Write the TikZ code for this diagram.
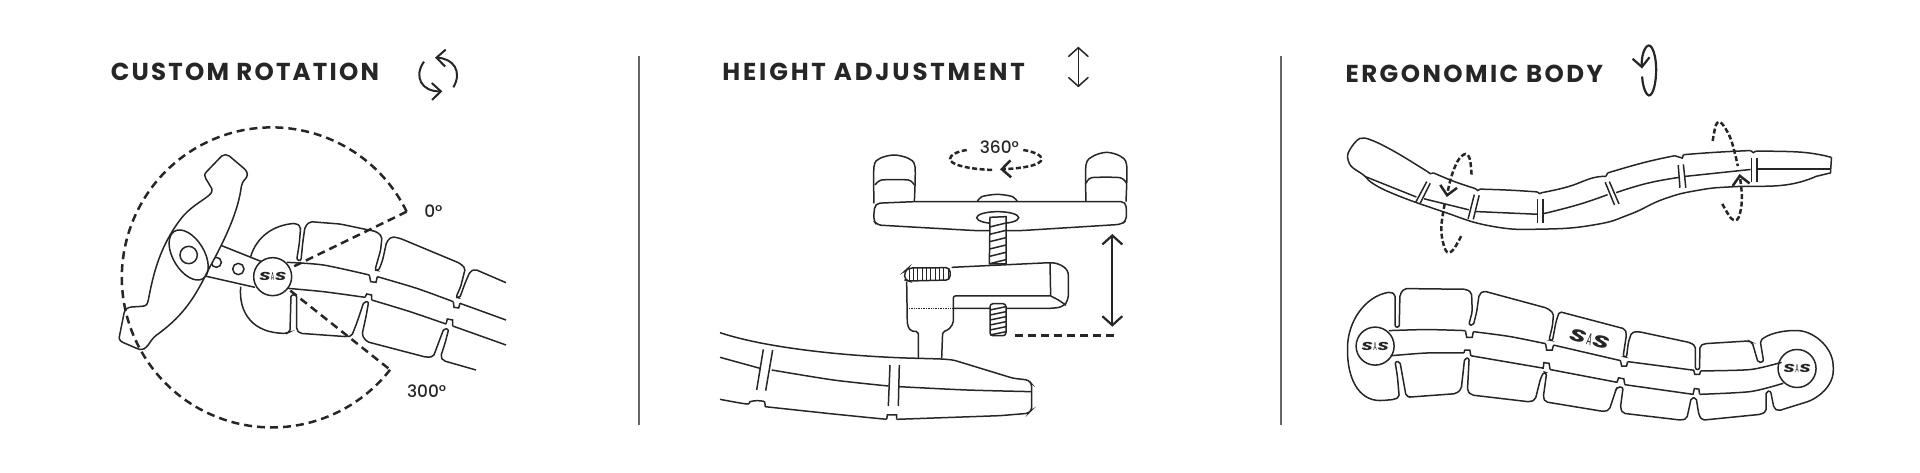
\documentclass[tikz,border=0pt]{standalone}
\usepackage{fontspec}
\setmainfont{Poppins}
\newfontfamily\titlefont[LetterSpace=10]{Poppins}
\newfontfamily\anglefont{Poppins Medium}
\usetikzlibrary{arrows.meta}
\newcommand{\sislogo}{{\bfseries\itshape\scalebox{1.6}[1]{S}}\kern.04em{\scalebox{.45}[1]{A}}\kern.04em{\bfseries\itshape\scalebox{1.6}[1]{S}}}
\tikzset{
  every path/.style={line width=1.5pt,black!85},
  zoomed/.style={x=.33333pt,y=-.33333pt},
  zoomedwide/.style={x=.34444pt,y=-.34444pt},
  padline/.style={rounded corners=2pt},
  title/.style={anchor=west,inner sep=0pt,text=black!85,font=\titlefont\bfseries\fontsize{24.5}{24.5}\selectfont},
  angletext/.style={inner sep=0pt,text=black!85,font=\anglefont\fontsize{17}{17}\selectfont},
  hubcircle/.style={circle,draw,fill=white,inner sep=0pt,minimum size=38pt,text=black!85,font=\fontsize{11.5}{11.5}\selectfont},
  chev/.style={>={Straight Barb[length=9pt,width=17pt]}},
  chevbig/.style={>={Straight Barb[length=9pt,width=20pt]}},
  dashline/.style={line width=2.5pt,dash pattern=on 8pt off 5pt},
  dashshort/.style={line width=2.5pt,dash pattern=on 5pt off 2.5pt},
  divider/.style={line width=1.6pt,black!60},
}
\begin{document}
\begin{tikzpicture}[x=1pt,y=-1pt]
\useasboundingbox (0,0) rectangle (1920,473);
\draw[divider] (639,56)--(639,425);
\draw[divider] (1281,56)--(1281,425);
% custom rotation
\begin{scope}[shift={(90,30)},zoomed]
\node[title] (rottitle) at (60,126) {\addfontfeature{LetterSpace=9}CUSTOM ROTATION};
\node[angletext] (zerotext) at (1030,545) {0°};
\node[angletext] (threetext) at (1010,1083) {300°};
\draw[chev,->,line width=2pt] (1090,172) .. controls (1118,125) and (1090,85) .. (1035,83);
\draw[chev,->,line width=2pt] (1002,95) .. controls (970,140) and (995,185) .. (1057,184);
\draw (390,645)--(515,695);
\draw (345,738)--(495,772);
\draw (379,697) circle (15);
\draw (445,717) circle (17);
\draw[fill=white] (395,378) .. controls (402,373) and (410,373) .. (418,378) -- (465,418) .. controls (474,428) and (474,438) .. (466,447) .. controls (458,455) and (456,460) .. (454,470) .. controls (445,540) and (410,620) .. (360,710) .. controls (320,790) and (290,850) .. (200,915) .. controls (180,930) and (178,945) .. (168,952) .. controls (160,960) and (150,960) .. (140,955) -- (98,937) .. controls (88,932) and (86,925) .. (89,915) -- (102,850) .. controls (105,838) and (112,832) .. (125,831) -- (155,829) .. controls (168,828) and (172,825) .. (175,810) .. controls (190,730) and (210,650) .. (270,570) .. controls (300,530) and (335,515) .. (358,495) .. controls (368,487) and (368,478) .. (362,470) -- (347,445) .. controls (342,437) and (343,432) .. (350,425) -- cycle;
\draw[rotate around={-59:(296,675)}] (296,675) ellipse (83 and 47);
\draw (296,675) circle (26);
\node[hubcircle] (hubone) at (548,740) {\sislogo};
% strap
\draw plot[smooth,tension=.45] coordinates {(590,697)(700,705)(838,735)};
\draw (838,735)--(842,755)--(858,757)--(862,740);
\draw plot[smooth,tension=.45] coordinates {(862,740)(980,775)(1090,815)};
\draw (1090,815)--(1092,832)--(1106,834)--(1110,820);
\draw (1110,820)--(1248,870);
\draw plot[smooth,tension=.45] coordinates {(592,775)(700,785)(825,802)};
\draw (825,802)--(830,792)--(845,795)--(845,810);
\draw plot[smooth,tension=.45] coordinates {(845,810)(960,845)(1068,882)};
\draw (1068,882)--(1072,867)--(1088,870)--(1088,888);
\draw (1088,888)--(1248,945);
\draw[padline] (482,680) .. controls (500,620) and (550,585) .. (618,580) -- (632,590) -- (628,640) -- (620,690) -- (633,692) -- (638,640) -- (645,590) -- (660,575) -- (750,582) -- (860,605) -- (876,620) -- (872,660) -- (855,720) -- (866,722) -- (878,690) -- (890,635) -- (905,620) -- (930,625) -- (1110,700) -- (1126,715) -- (1112,770) -- (1098,802) -- (1109,804) -- (1125,760) -- (1140,725) -- (1155,718) -- (1248,758);
\draw[padline] (452,770) .. controls (445,850) and (490,910) .. (590,910) -- (600,905) -- (603,795) -- (620,795) -- (620,900) -- (630,910) -- (770,920) -- (785,918) -- (800,880) -- (822,815) -- (836,815) -- (828,860) -- (816,915) -- (830,935) -- (1010,982) -- (1030,980) -- (1045,940) -- (1062,895) -- (1076,898) -- (1065,940) -- (1052,980) -- (1060,992) -- (1158,1020);
% range
\coordinate (zeroend) at (950,545);
\coordinate (threeend) at (895,1015);
\draw[dashline] (zeroend)--(hubone);
\draw[dashline] (threeend)--(hubone);
\draw[dashline] (zeroend) arc[start angle=-26,end angle=-322,radius=450];
\end{scope}
% height adjustment
\begin{scope}[shift={(700,30)},zoomed]
\node[title] (heighttitle) at (65,127) {\addfontfeature{LetterSpace=11.5}HEIGHT ADJUSTMENT};
\node[angletext] (rotatetext) at (898,352) {360°};
\draw[chevbig,<->,line width=1.5pt] (1135,50)--(1135,172);
% strap
\draw[rounded corners=3pt] (60,908) .. controls (200,955) and (450,980) .. (655,985) -- (725,987) -- (760,990) -- (940,1045) -- (985,1050) -- (995,1062) -- (995,1140) -- (985,1150) -- (900,1157) -- (590,1168);
\draw (590,1168)--(590,1155)--(562,1155)--(560,1168);
\draw plot[smooth,tension=.45] coordinates {(560,1168)(400,1152)(195,1130)};
\draw plot[smooth,tension=.45] coordinates {(195,1130)(193,1115)(170,1112)(150,1115)(140,1122)(60,1108)};
\draw (60,982)--(180,1015);
\draw plot[smooth,tension=.45] coordinates {(215,1020)(400,1050)(565,1068)};
\draw plot[smooth,tension=.45] coordinates {(597,1070)(800,1080)(995,1085)};
\draw (190,958)--(170,1080);
\draw (218,960)--(197,1082);
\draw (570,1005)--(565,1128);
\draw (598,1005)--(595,1128);
% clamp
\draw[padline] (655,985)--(655,905)--(632,903)--(622,885)--(620,755);
\draw[padline] (725,985)--(728,905)--(745,900)--(760,880)--(760,798)--(1052,798);
\draw[rounded corners=5pt] (755,712)--(1050,698)--(1075,700)--(1105,720)--(1105,810)--(1090,830)--(1060,835)--(760,835);
\draw (1050,698)--(1052,798);
\draw plot[smooth,tension=.45] coordinates {(1052,798)(1075,810)(1098,826)};
\draw[line width=.7pt,densely dotted] (622,835)--(760,835);
\draw[rounded corners=4pt] (750,713)--(625,714)--(614,724)--(614,750)--(625,753)--(750,750)--cycle;
\foreach \xk in {627,640,...,744} \draw[line width=.9pt] (\xk,715)--(\xk,750);
% knob
\draw[fill=white,rounded corners=5pt] (525,520)--(640,515)--(1278,515)--(1280,570)--(1265,583)--(960,602)--(830,602)--(530,585)--(520,570)--cycle;
\draw plot[smooth,tension=.5] coordinates {(522,520)(522,410)(540,385)(582,375)(625,385)(645,410)(643,515)};
\draw plot[smooth,tension=.5] coordinates {(1158,515)(1158,405)(1180,378)(1220,367)(1260,378)(1280,405)(1278,515)};
\draw plot[smooth,tension=.4] coordinates {(525,465)(545,450)(625,450)(643,465)};
\draw plot[smooth,tension=.4] coordinates {(1158,460)(1175,443)(1260,443)(1280,460)};
\draw plot[smooth,tension=.5] coordinates {(832,515)(845,500)(892,493)(938,500)(952,515)};
\draw (893,563) ellipse (63 and 18);
% screws
\draw[fill=white] (870,562)--(918,560)--(918,702)--(868,702)--cycle;
\foreach \yk in {585,607,...,695} \draw (869,\yk+6)--(918,\yk-6);
\draw[fill=white,rounded corners=3pt] (870,821)--(918,821)--(918,917)--(870,917)--cycle;
\foreach \yk in {835,850,...,910} \draw (870,\yk+5)--(918,\yk-5);
\draw[dashline] (945,917)--(1250,917);
\draw[chevbig,<->,line width=2.2pt] (1237,612)--(1237,890);
% rotate marker
\draw[dashshort] (800,360) .. controls (770,365) and (750,375) .. (750,387) .. controls (750,405) and (810,418) .. (880,420);
\draw[chev,->,dashshort] (970,360) .. controls (1000,365) and (1025,375) .. (1025,387) .. controls (1025,405) and (970,415) .. (900,418);
\end{scope}
% ergonomic body
\begin{scope}[shift={(1320,30)},zoomedwide]
\node[title] (ergotitle) at (72,127) {ERGONOMIC BODY};
\draw[chev,->,line width=2.2pt] (935,135) .. controls (938,175) and (950,190) .. (955,190) .. controls (968,190) and (976,150) .. (976,115) .. controls (976,75) and (965,45) .. (955,45) .. controls (942,45) and (932,80) .. (935,112);
\draw plot[smooth,tension=.6] coordinates {(90,342)(115,315)(150,320)(220,355)(310,410)};
\draw (310,410)--(320,417)--(330,415);
\draw plot[smooth,tension=.8] coordinates {(330,415)(390,440)(450,460)};
\draw (450,460)--(458,466)--(465,462);
\draw plot[smooth,tension=.8] coordinates {(465,462)(550,465)(630,470)};
\draw (630,470)--(638,475)--(645,472);
\draw plot[smooth,tension=.8] coordinates {(645,472)(720,455)(790,430)(830,425)};
\draw (830,425)--(835,415);
\draw plot[smooth,tension=.8] coordinates {(835,415)(940,385)(1030,365)};
\draw (1030,365)--(1052,372)--(1055,362);
\draw plot[smooth,tension=.8] coordinates {(1055,362)(1150,355)(1250,350)};
\draw (1250,350)--(1258,356)--(1265,352);
\draw plot[smooth,tension=.8] coordinates {(1265,352)(1400,355)(1485,370)};
\draw (1485,370)--(1482,415)--(1440,425);
\draw plot[smooth,tension=.8] coordinates {(1440,425)(1350,450)(1200,455)(1100,465)(1000,490)(900,535)(800,565)(650,578)(500,570)(350,525)(200,470)(140,435)};
\draw plot[smooth,tension=.6] coordinates {(140,435)(125,420)(90,395)(80,365)(90,342)};
\draw (130,425)--(280,485);
\draw (302,490)--(432,522);
\draw (450,527)--(632,535);
\draw plot[smooth,tension=.8] coordinates {(650,533)(750,507)(835,478)};
\draw plot[smooth,tension=.8] coordinates {(860,472)(950,445)(1042,428)};
\draw (1060,425)--(1250,405);
\draw (1268,403)--(1483,403);
\draw (310,440)--(278,500);
\draw (320,445)--(290,505);
\draw (448,478)--(430,548);
\draw (462,480)--(445,550);
\draw (632,492)--(632,560);
\draw (648,492)--(648,560);
\draw (828,442)--(855,508);
\draw (840,440)--(868,505);
\draw (1040,392)--(1045,458);
\draw (1055,390)--(1062,458);
\draw (1252,372)--(1252,440);
\draw (1268,372)--(1268,440);
% twist markers
\draw[chev,->,dashshort] plot[smooth,tension=.6] coordinates {(440,420)(435,375)(422,360)(400,380)(380,430)(368,485)};
\draw[dashshort] plot[smooth,tension=.6] coordinates {(362,505)(352,580)(365,640)(385,640)(410,598)};
\draw[dashshort] plot[smooth,tension=.6] coordinates {(1140,322)(1150,275)(1165,270)(1190,310)(1205,360)(1213,395)};
\draw[chev,->,dashshort] plot[smooth,tension=.6] coordinates {(1168,505)(1195,548)(1215,545)(1225,490)(1218,418)};
\end{scope}
\begin{scope}[shift={(1320,260)},zoomedwide]
\node[hubcircle] (hubleft) at (160,250) {\sislogo};
\node[hubcircle] (hubright) at (1385,315) {\sislogo};
\node[inner sep=0pt,rotate=-15,text=black!85,font=\fontsize{17}{17}\selectfont] (biglogo) at (783,230) {\sislogo};
\draw plot[smooth,tension=.45] coordinates {(200,205)(310,202)(422,205)};
\draw (422,205)--(426,225)--(442,225)--(445,208);
\draw plot[smooth,tension=.45] coordinates {(445,208)(550,222)(655,243)};
\draw (655,243)--(658,262)--(674,262)--(678,247);
\draw (678,247)--(872,292)--(876,308)--(890,308)--(893,295);
\draw (893,295)--(1085,320)--(1088,332)--(1102,332)--(1105,322);
\draw plot[smooth,tension=.45] coordinates {(1105,322)(1250,318)(1340,297)};
\draw plot[smooth,tension=.45] coordinates {(205,278)(310,270)(418,270)};
\draw (418,270)--(420,262)--(435,262)--(438,278);
\draw (438,278)--(648,314)--(650,298)--(665,300)--(668,318);
\draw (668,318)--(862,355)--(867,342)--(882,345)--(885,362);
\draw (885,362)--(1083,390)--(1087,373)--(1100,375)--(1102,390);
\draw plot[smooth,tension=.45] coordinates {(1102,390)(1250,382)(1345,358)};
\draw[padline] (218,195) -- (218,100) -- (205,93) .. controls (130,105) and (80,180) .. (80,260) .. controls (80,340) and (110,408) .. (180,408) -- (215,405) -- (230,398) -- (225,340) -- (218,295) -- (232,295) -- (240,340) -- (250,395) -- (260,398) -- (395,388) -- (410,375) -- (420,285) -- (433,285) -- (428,380) -- (440,392) -- (610,412) -- (625,405) -- (640,345) -- (650,325) -- (658,328) -- (648,400) -- (655,412) -- (825,440) -- (840,435) -- (860,375) -- (864,368) -- (880,370) -- (872,430) -- (880,445) -- (1050,465) -- (1065,460) -- (1078,400) -- (1092,400) -- (1100,450) -- (1110,465) -- (1280,448) -- (1295,440) -- (1295,382) -- (1308,380) -- (1318,430) -- (1330,438) -- (1420,410) .. controls (1470,385) and (1492,350) .. (1490,310) .. controls (1487,250) and (1430,205) .. (1380,205) .. controls (1340,205) and (1300,215) .. (1278,235) -- (1288,295) -- (1272,298) -- (1255,240) -- (1245,235) -- (1115,243) -- (1103,250) -- (1102,318) -- (1090,318) -- (1090,250) -- (1075,240) -- (925,208) -- (905,210) -- (895,240) -- (890,282) -- (880,280) -- (890,215) -- (885,200) -- (695,150) -- (685,180) -- (675,234) -- (665,232) -- (675,190) -- (678,155) -- (660,140) -- (475,90) -- (462,100) -- (455,150) -- (445,190) -- (432,188) -- (442,150) -- (440,95) -- (425,85) -- (245,83) -- (232,100) -- (230,195) -- cycle;
\end{scope}
\end{tikzpicture}
\end{document}
